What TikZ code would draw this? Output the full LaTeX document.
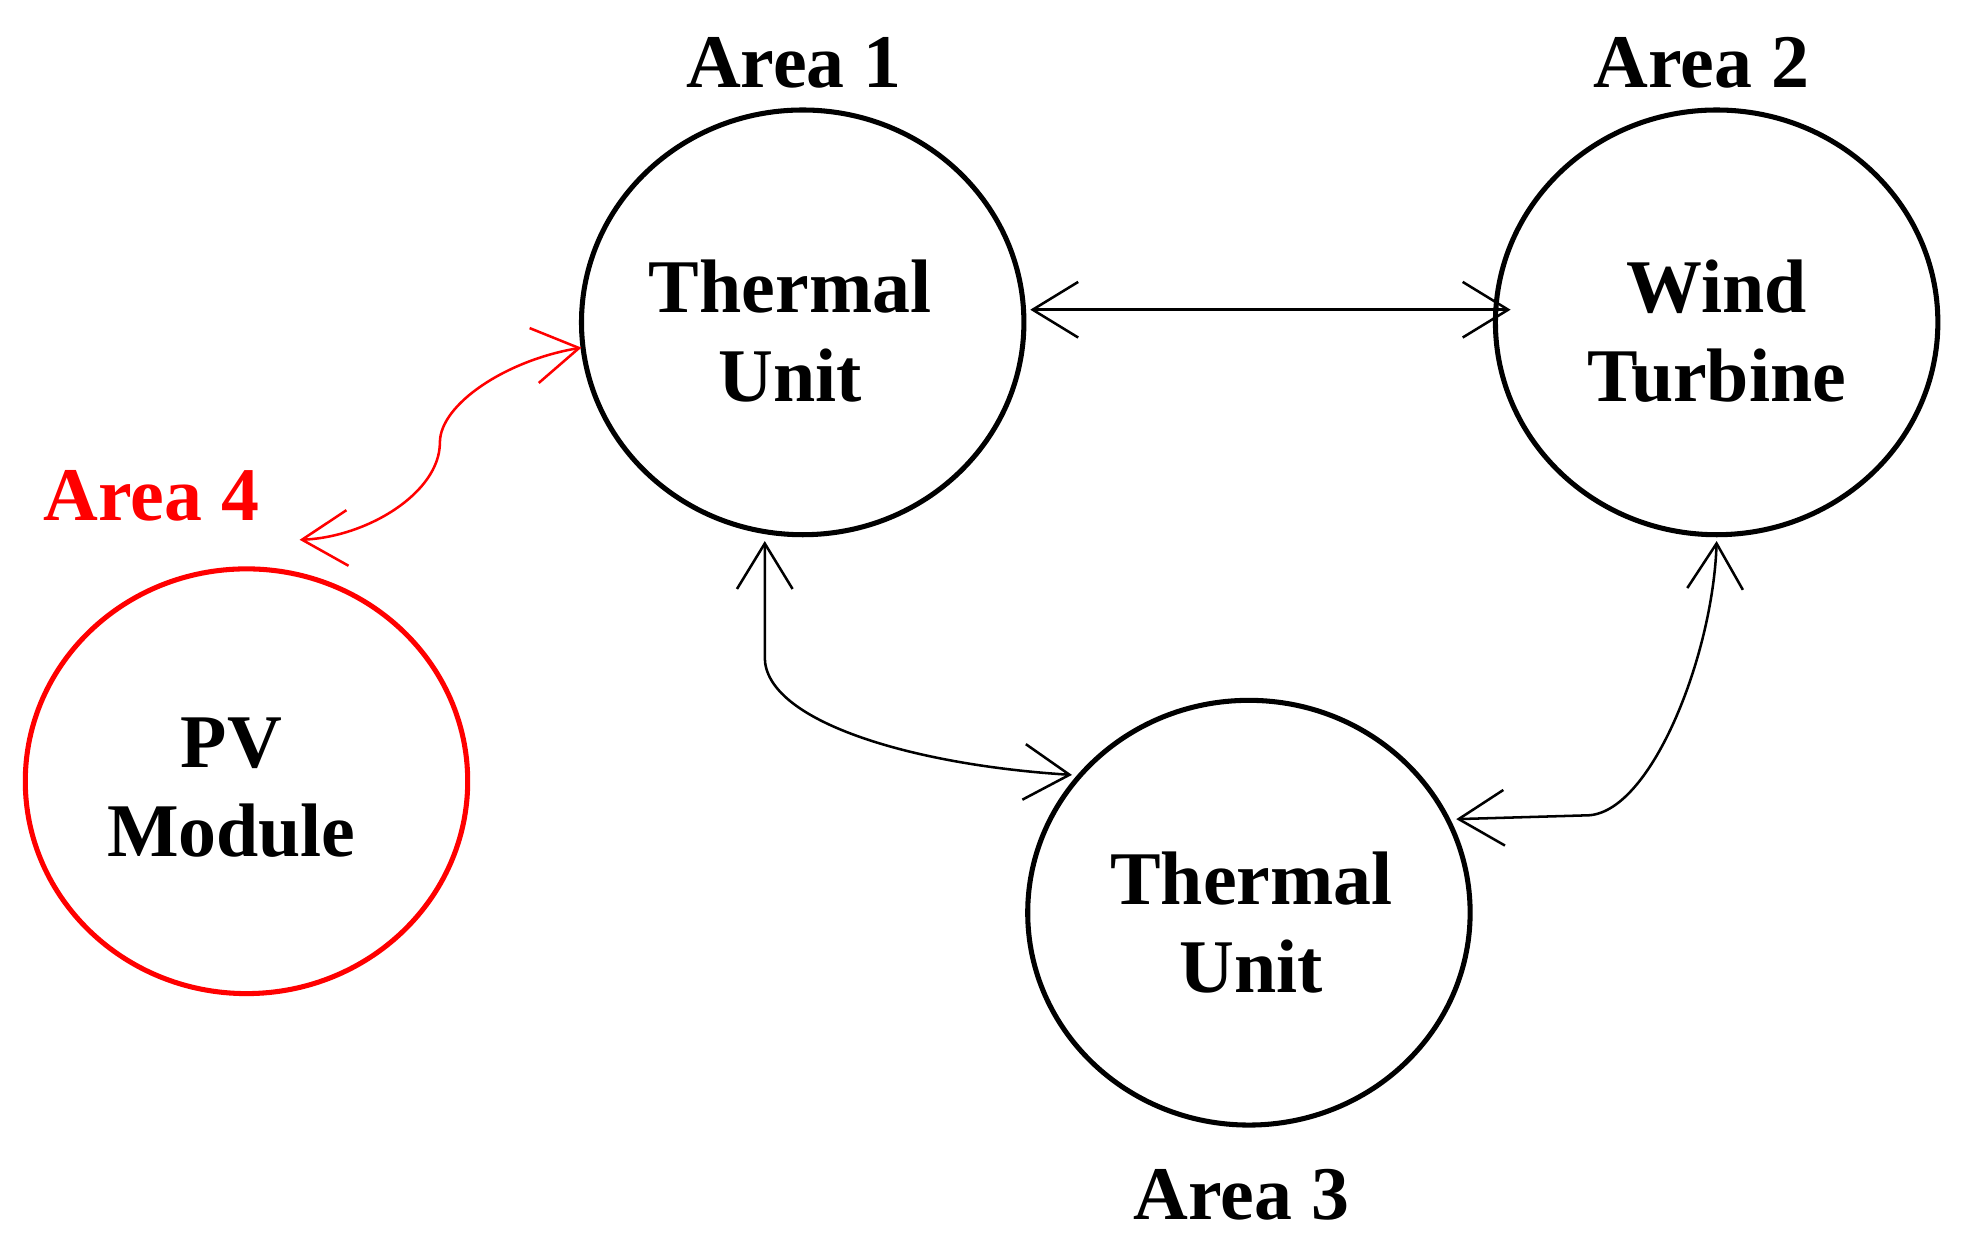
\documentclass[tikz,border=0pt]{standalone}
\usepackage{fontspec}
\setmainfont{Liberation Serif}
\usetikzlibrary{arrows.meta,shapes.geometric}
\begin{document}
\begin{tikzpicture}[x=0.5pt,y=-0.5pt,
  area/.style={draw,line width=2pt,shape=ellipse,minimum width=175pt,minimum height=168pt,inner sep=0pt},
  lbl/.style={font=\fontsize{30}{35}\selectfont\bfseries,align=center},
  link/.style={line width=1pt,{Straight Barb[length=18pt,width=22pt]}-{Straight Barb[length=18pt,width=22pt]}}]
\useasboundingbox (0,0) rectangle (1560,982);
\node[area] (a1) at (635,255) {};
\node[area] (a2) at (1358,255) {};
\node[area] (a3) at (988,722) {};
\node[area,draw=red] (a4) at (195,618) {};
\node[lbl] (t1) at (625,262) {Thermal\\Unit};
\node[lbl] (t2) at (1358,262) {Wind\\Turbine};
\node[lbl] (t3) at (990,730) {Thermal\\Unit};
\node[lbl] (t4) at (183,623) {PV\\Module};
\node[lbl] (l1) at (628,50) {Area 1};
\node[lbl] (l2) at (1346,50) {Area 2};
\node[lbl] (l3) at (982,945) {Area 3};
\node[lbl,text=red] (l4) at (120,392) {Area 4};
\coordinate (p1) at (815,245);
\coordinate (p2) at (1195,245);
\coordinate (p3) at (605,428);
\coordinate (p4) at (848,613);
\coordinate (p5) at (1358,428);
\coordinate (p6) at (1152,648);
\coordinate (p7) at (460,275);
\coordinate (p8) at (237,427);
\draw[link] (p1) -- (p2);
\draw[link] (p3) -- (605,520) .. controls (605,570) and (720,605) .. (p4);
\draw[link] (p5) .. controls (1355,520) and (1305,645) .. (1255,645) -- (p6);
\draw[link,red] (p7) .. controls (400,285) and (348,320) .. (348,350) .. controls (348,390) and (290,425) .. (p8);
\end{tikzpicture}
\end{document}
